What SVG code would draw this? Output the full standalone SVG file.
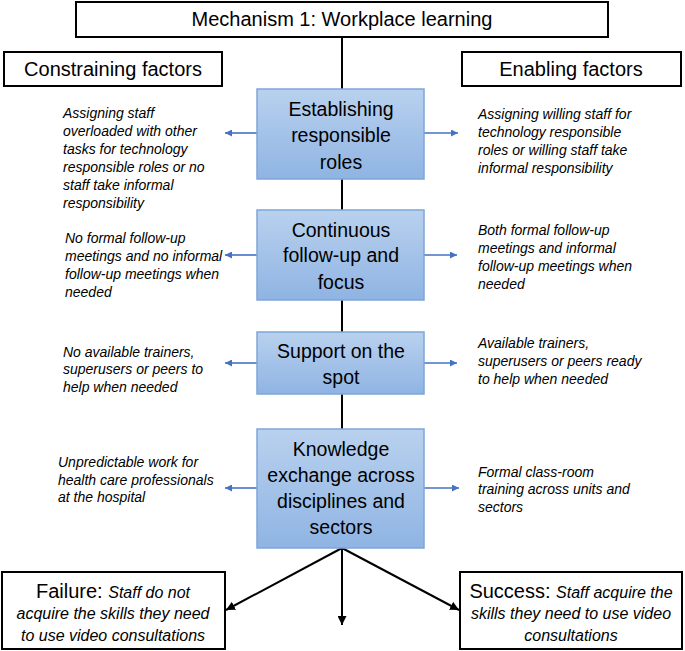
<svg xmlns="http://www.w3.org/2000/svg" width="685" height="651" viewBox="0 0 685 651">
<defs>
<linearGradient id="blueFill" x1="0" y1="0" x2="0" y2="1">
<stop offset="0" stop-color="#b9d1ee"/>
<stop offset="1" stop-color="#8fb4e3"/>
</linearGradient>
<marker id="blk" viewBox="0 0 10 10" refX="10" refY="5" markerWidth="9" markerHeight="9" markerUnits="userSpaceOnUse" orient="auto">
<path d="M0,0 L10,5 L0,10 z" fill="#000"/>
</marker>
<marker id="blu" viewBox="0 0 10 10" refX="10" refY="5" markerWidth="8" markerHeight="7" markerUnits="userSpaceOnUse" orient="auto">
<path d="M0,0 L10,5 L0,10 z" fill="#4472c4"/>
</marker>
</defs>
<style>
.box{fill:#fff;stroke:#000;stroke-width:2}
.blue{fill:url(#blueFill);stroke:#7fa6d8;stroke-width:1.5}
.hd{font-family:"Liberation Sans",Arial,sans-serif;font-size:20px;fill:#000;text-anchor:middle}
.bt{font-family:"Liberation Sans",Arial,sans-serif;font-size:19.5px;fill:#000;text-anchor:middle}
.it{font-family:"Liberation Sans",Arial,sans-serif;font-size:14px;font-style:italic;fill:#000}
.bi{font-family:"Liberation Sans",Arial,sans-serif;font-size:16px;font-style:italic;fill:#000;text-anchor:middle}
.ln{stroke:#000;stroke-width:2;fill:none}
.ba{stroke:#4472c4;stroke-width:1.6;fill:none}
</style>
<g id="connectors">
<line class="ln" x1="342" y1="37" x2="342" y2="89"/>
<line class="ln" x1="342" y1="179" x2="342" y2="210"/>
<line class="ln" x1="342" y1="300" x2="342" y2="332"/>
<line class="ln" x1="342" y1="394" x2="342" y2="429"/>
<line class="ln" x1="342" y1="548" x2="342" y2="625" marker-end="url(#blk)"/>
<line class="ln" x1="342" y1="548" x2="226" y2="610" marker-end="url(#blk)"/>
<line class="ln" x1="342" y1="548" x2="459" y2="610" marker-end="url(#blk)"/>
<line class="ba" x1="257" y1="133" x2="225" y2="133" marker-end="url(#blu)"/>
<line class="ba" x1="424" y1="133" x2="458" y2="133" marker-end="url(#blu)"/>
<line class="ba" x1="257" y1="255" x2="225" y2="255" marker-end="url(#blu)"/>
<line class="ba" x1="424" y1="255" x2="457" y2="255" marker-end="url(#blu)"/>
<line class="ba" x1="257" y1="363" x2="225" y2="363" marker-end="url(#blu)"/>
<line class="ba" x1="424" y1="363" x2="457" y2="363" marker-end="url(#blu)"/>
<line class="ba" x1="257" y1="488" x2="225" y2="488" marker-end="url(#blu)"/>
<line class="ba" x1="424" y1="488" x2="459" y2="488" marker-end="url(#blu)"/>
</g>
<g id="title">
<rect class="box" x="76" y="2" width="532" height="35"/>
<text class="hd" x="342" y="26">Mechanism 1: Workplace learning</text>
</g>
<g id="constraining">
<rect class="box" x="4" y="52" width="218" height="34"/>
<text class="hd" x="113" y="76">Constraining factors</text>
</g>
<g id="enabling">
<rect class="box" x="462" y="52" width="219" height="34"/>
<text class="hd" x="571" y="76">Enabling factors</text>
</g>
<g id="roles">
<rect class="blue" x="257" y="89" width="167" height="90"/>
<text class="bt" x="341" y="116">Establishing</text>
<text class="bt" x="341" y="142">responsible</text>
<text class="bt" x="341" y="169">roles</text>
</g>
<g id="followup">
<rect class="blue" x="257" y="210" width="167" height="90"/>
<text class="bt" x="341" y="237">Continuous</text>
<text class="bt" x="341" y="262">follow-up and</text>
<text class="bt" x="341" y="289">focus</text>
</g>
<g id="support">
<rect class="blue" x="257" y="332" width="167" height="62"/>
<text class="bt" x="341" y="358">Support on the</text>
<text class="bt" x="341" y="384">spot</text>
</g>
<g id="knowledge">
<rect class="blue" x="257" y="429" width="167" height="119"/>
<text class="bt" x="341" y="456">Knowledge</text>
<text class="bt" x="341" y="482">exchange across</text>
<text class="bt" x="341" y="508">disciplines and</text>
<text class="bt" x="341" y="534">sectors</text>
</g>
<g id="c1">
<text class="it" x="63" y="118">Assigning staff</text>
<text class="it" x="63" y="136">overloaded with other</text>
<text class="it" x="63" y="154">tasks for technology</text>
<text class="it" x="63" y="172">responsible roles or no</text>
<text class="it" x="63" y="190">staff take informal</text>
<text class="it" x="63" y="208">responsibility</text>
</g>
<g id="e1">
<text class="it" x="478" y="119">Assigning willing staff for</text>
<text class="it" x="478" y="137">technology responsible</text>
<text class="it" x="478" y="155">roles or willing staff take</text>
<text class="it" x="478" y="173">informal responsibility</text>
</g>
<g id="c2">
<text class="it" x="65" y="243">No formal follow-up</text>
<text class="it" x="65" y="261">meetings and no informal</text>
<text class="it" x="65" y="279">follow-up meetings when</text>
<text class="it" x="65" y="297">needed</text>
</g>
<g id="e2">
<text class="it" x="478" y="235">Both formal follow-up</text>
<text class="it" x="478" y="253">meetings and informal</text>
<text class="it" x="478" y="271">follow-up meetings when</text>
<text class="it" x="478" y="289">needed</text>
</g>
<g id="c3">
<text class="it" x="63" y="357">No available trainers,</text>
<text class="it" x="63" y="374">superusers or peers to</text>
<text class="it" x="63" y="392">help when needed</text>
</g>
<g id="e3">
<text class="it" x="478" y="348">Available trainers,</text>
<text class="it" x="478" y="366">superusers or peers ready</text>
<text class="it" x="478" y="384">to help when needed</text>
</g>
<g id="c4">
<text class="it" x="58" y="467">Unpredictable work for</text>
<text class="it" x="58" y="485">health care professionals</text>
<text class="it" x="58" y="502">at the hospital</text>
</g>
<g id="e4">
<text class="it" x="478" y="477">Formal class-room</text>
<text class="it" x="478" y="494">training across units and</text>
<text class="it" x="478" y="512">sectors</text>
</g>
<g id="failure">
<rect class="box" x="2" y="572" width="223" height="77"/>
<text class="bi" x="113" y="598"><tspan style="font-style:normal;font-size:20px">Failure: </tspan>Staff do not</text>
<text class="bi" x="113" y="619">acquire the skills they need</text>
<text class="bi" x="113" y="641">to use video consultations</text>
</g>
<g id="success">
<rect class="box" x="460" y="572" width="222" height="77"/>
<text class="bi" x="571" y="598"><tspan style="font-style:normal;font-size:20px">Success: </tspan>Staff acquire the</text>
<text class="bi" x="571" y="619">skills they need to use video</text>
<text class="bi" x="571" y="641">consultations</text>
</g>
</svg>
